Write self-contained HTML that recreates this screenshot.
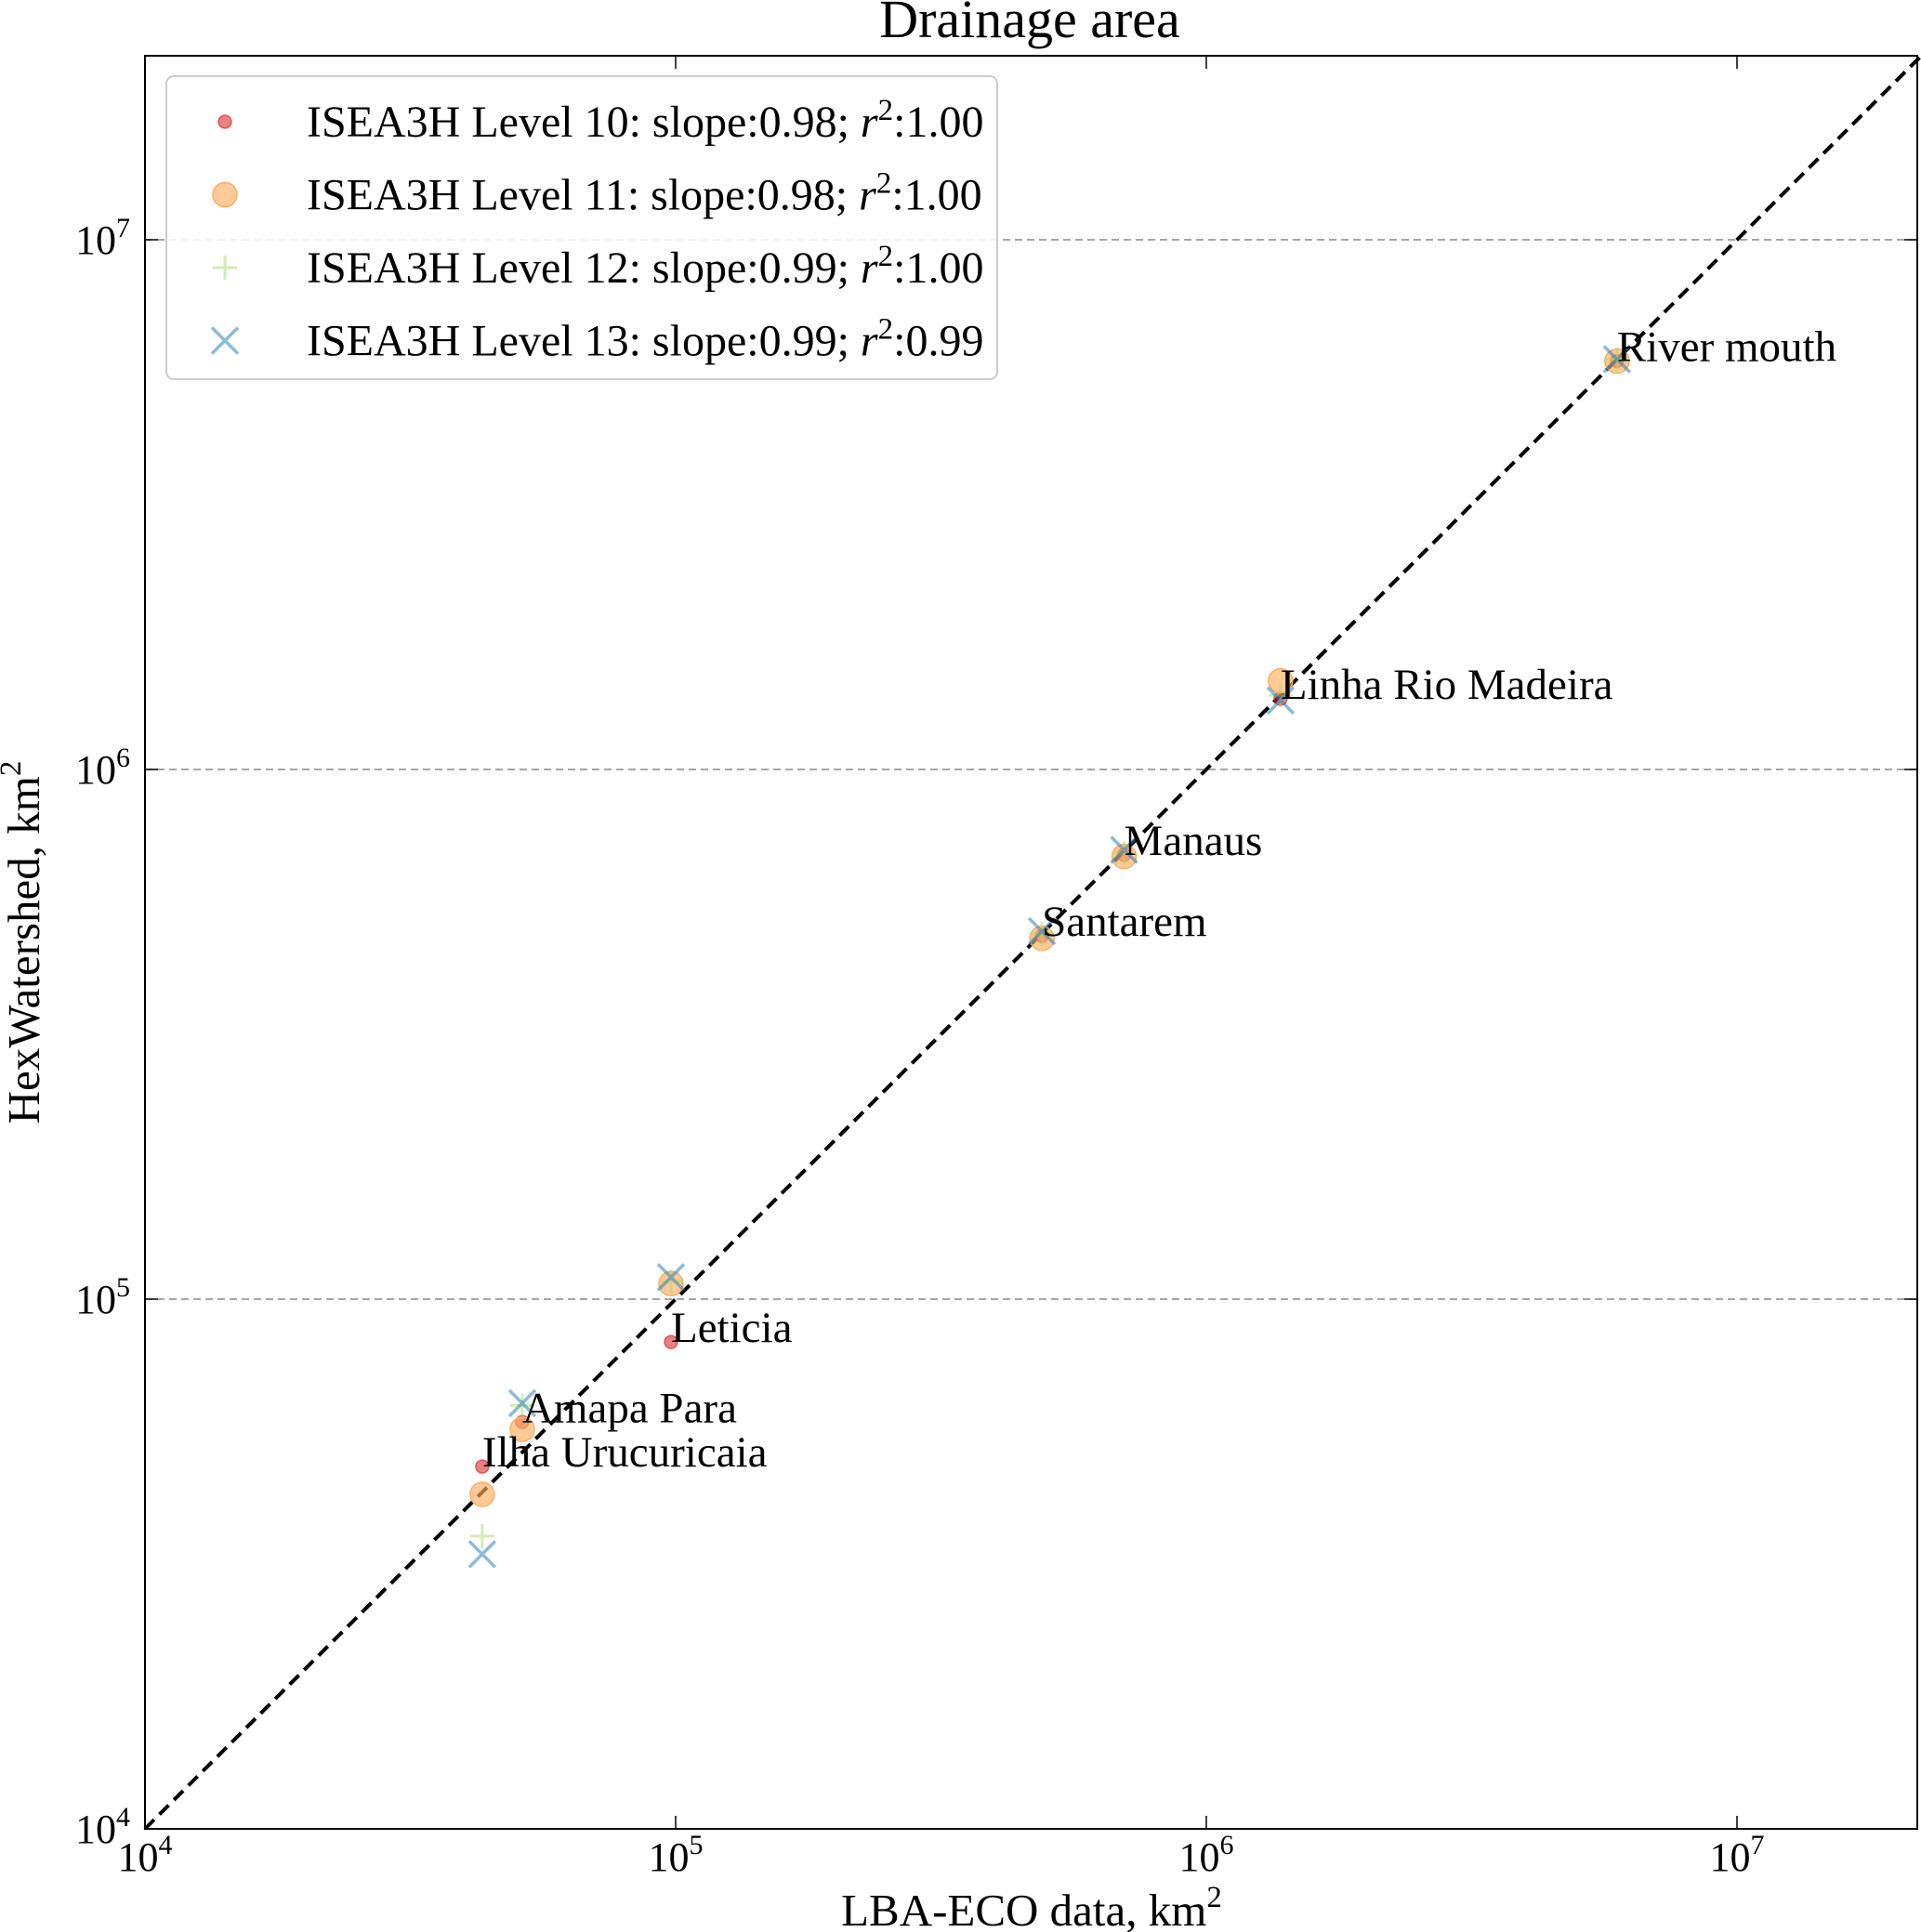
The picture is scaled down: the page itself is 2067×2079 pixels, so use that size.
<!DOCTYPE html>
<html><head><meta charset="utf-8"><style>
html,body{margin:0;padding:0;background:#fff;}
svg{display:block;font-family:"Liberation Serif","DejaVu Serif",serif;}
</style></head><body>
<svg id="chart" width="2067" height="2079" viewBox="0 0 2067 2079" xmlns="http://www.w3.org/2000/svg"></svg>
<script>
const sites = ["River mouth","Linha Rio Madeira","Manaus","Santarem","Leticia","Amapa Para","Ilha Urucuricaia"];
const lbaX = [5.94e6,1.38e6,7.0e5,4.9e5,9.8e4,5.14e4,4.32e4];
const level10 = [5.9e6,1.36e6,6.9e5,4.85e5,8.3e4,5.86e4,4.83e4];
const level11 = [5.9e6,1.47e6,6.85e5,4.8e5,1.07e5,5.68e4,4.28e4];
const level12 = [5.95e6,1.38e6,6.95e5,4.9e5,1.08e5,6.3e4,3.57e4];
const level13 = [5.95e6,1.35e6,7.05e5,4.95e5,1.10e5,6.36e4,3.3e4];
const tickExps = [4,5,6,7];
const legendLabels = ["ISEA3H Level 10: slope:0.98; ","ISEA3H Level 11: slope:0.98; ","ISEA3H Level 12: slope:0.99; ","ISEA3H Level 13: slope:0.99; "];
const legendR2 = ["1.00","1.00","1.00","0.99"];

const NS="http://www.w3.org/2000/svg";
const svgRoot=document.getElementById('chart');
const L=156,R=2063,T=60,B=1968;
const dec=571, decY=570;
const xs=v=>L+(Math.log10(v)-4)*dec;
const ys=v=>B-(Math.log10(v)-4)*decY;
function el(tag,attrs,parent){const e=document.createElementNS(NS,tag);for(const k in attrs)e.setAttribute(k,attrs[k]);(parent||svgRoot).appendChild(e);return e;}

tickExps.forEach(e=>{
  const y=ys(Math.pow(10,e));
  if(e>4){const g=el('line',{x1:L,x2:R,y1:y,y2:y,stroke:'#888','stroke-width':1.6,'stroke-dasharray':'8 5'});
  
  }
});
const yTopVal=Math.pow(10,4+(B-T)/decY);
const idl=el('line',{x1:xs(1e4),y1:ys(1e4),x2:xs(yTopVal),y2:ys(yTopVal),stroke:'#000','stroke-width':4,'stroke-dasharray':'14 8'});



function drawMarker(g,kind,cx,cy){
  let m;
  if(kind==='red'){m=el('circle',{cx,cy,r:7,fill:'#d7191c','fill-opacity':0.55,stroke:'#d7191c','stroke-opacity':0.6,'stroke-width':1.5},g);}
  else if(kind==='orange'){m=el('circle',{cx,cy,r:13,fill:'#fdae61','fill-opacity':0.65,stroke:'#fdae61','stroke-width':1.5},g);}
  else if(kind==='plus'){m=el('path',{d:`M${cx-13} ${cy}H${cx+13}M${cx} ${cy-13}V${cy+13}`,stroke:'#a6d96a','stroke-opacity':0.5,'stroke-width':3,fill:'none'},g);}
  else {m=el('path',{d:`M${cx-14} ${cy-14}L${cx+14} ${cy+14}M${cx-14} ${cy+14}L${cx+14} ${cy-14}`,stroke:'#2b83ba','stroke-opacity':0.55,'stroke-width':3.5,fill:'none'},g);}
  
  
}
function drawSeries(vals,kind,parentName){
  const g=el('g',{});
  
  
  vals.forEach((v,i)=>{drawMarker(g,kind,xs(lbaX[i]),ys(v));});
}
drawSeries(level10,'red','series-level-10');
drawSeries(level11,'orange','series-level-11');
drawSeries(level12,'plus','series-level-12');
drawSeries(level13,'x','series-level-13');

sites.forEach((s,i)=>{
  const t=el('text',{x:xs(lbaX[i]),y:ys(level10[i]),'font-size':47,fill:'#000'});
  t.textContent=s;
  
  
});

const fr=el('rect',{x:L,y:T,width:R-L,height:B-T,fill:'none',stroke:'#000','stroke-width':2});



tickExps.forEach(e=>{
  const v=Math.pow(10,e),x=xs(v),y=ys(v);
  el('line',{x1:x,x2:x,y1:B,y2:B-14,stroke:'#000','stroke-width':1.5});
  el('line',{x1:x,x2:x,y1:T,y2:T+14,stroke:'#000','stroke-width':1.5});
  el('line',{x1:L,x2:L+14,y1:y,y2:y,stroke:'#000','stroke-width':1.5});
  el('line',{x1:R,x2:R-14,y1:y,y2:y,stroke:'#000','stroke-width':1.5});
  const tx=el('text',{x:x,y:2013,'font-size':44,'text-anchor':'middle'});
  tx.innerHTML='10<tspan dy="-18" font-size="30">'+e+'</tspan>';
  
  
  const ty=el('text',{x:140,y:y+15,'font-size':44,'text-anchor':'end'});
  ty.innerHTML='10<tspan dy="-18" font-size="30">'+e+'</tspan>';
  
  
});

const title=el('text',{x:1108,y:40,'font-size':58,'text-anchor':'middle'});
title.textContent='Drainage area';


const xl=el('text',{x:1110,y:2072,'font-size':49,'text-anchor':'middle'});
xl.innerHTML='LBA-ECO data, km<tspan dy="-20" font-size="33">2</tspan>';


const yl=el('text',{x:0,y:0,'font-size':49,'text-anchor':'middle',transform:'translate(42,1014) rotate(-90)'});
yl.innerHTML='HexWatershed, km<tspan dy="-20" font-size="33">2</tspan>';



const lg=el('g',{});


el('rect',{x:179,y:82,width:894,height:326,rx:8,fill:'#fff','fill-opacity':0.85,stroke:'#ccc','stroke-width':2},lg);
const kinds=['red','orange','plus','x'];
legendLabels.forEach((lab,i)=>{
  const cy=131+i*78.5;
  const eg=el('g',{},lg);
  
  
  drawMarker(eg,kinds[i],242,cy);
  const t=el('text',{x:330,y:cy+16,'font-size':48},eg);
  t.innerHTML=lab+'<tspan font-style="italic">r</tspan><tspan dy="-18" font-size="33">2</tspan><tspan dy="18">:'+legendR2[i]+'</tspan>';
});
</script>
</body></html>
